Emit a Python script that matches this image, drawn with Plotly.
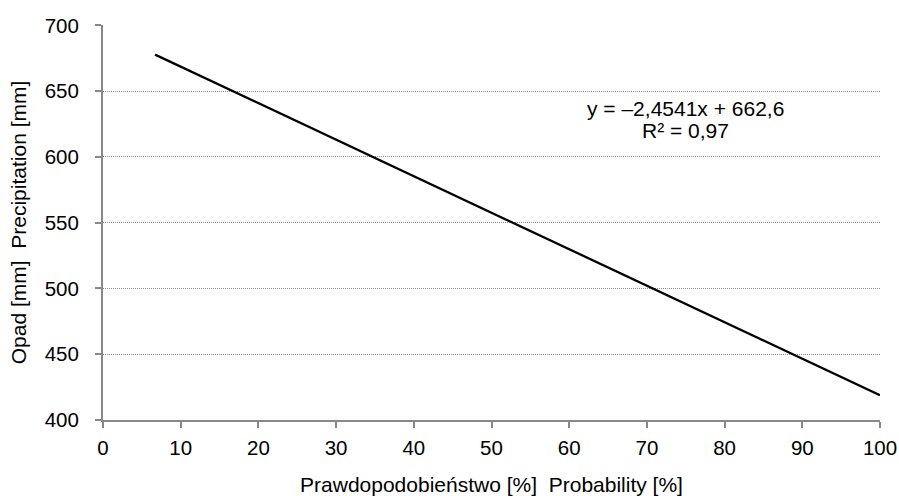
import plotly.graph_objects as go

# Data
line_x = [6.7, 100]
line_y = [677.8, 418.8]
x_ticks = [0, 10, 20, 30, 40, 50, 60, 70, 80, 90, 100]
y_ticks = [400, 450, 500, 550, 600, 650, 700]
eq_line1 = "y = –2,4541x + 662,6"
eq_line2 = "R² = 0,97"
x_title = "Prawdopodobieństwo [%]&nbsp; Probability [%]"
y_title = "Opad [mm]&nbsp; Precipitation [mm]"

FONT = "Liberation Sans, Arial, sans-serif"
fig = go.Figure()
fig.add_trace(go.Scatter(x=line_x, y=line_y, mode="lines",
                         line=dict(color="black", width=2.3), showlegend=False))

fig.add_annotation(x=75, y=637, xref="x", yref="y", text=eq_line1,
                   showarrow=False, font=dict(family=FONT, size=21, color="black"))
fig.add_annotation(x=75, y=620, xref="x", yref="y", text=eq_line2,
                   showarrow=False, font=dict(family=FONT, size=21, color="black"))

tick_font = dict(family=FONT, size=20.5, color="black")
title_font = dict(family=FONT, size=21, color="black")
fig.update_layout(
    width=899, height=496,
    margin=dict(l=103, r=19, t=25, b=76),
    plot_bgcolor="white", paper_bgcolor="white",
    font=tick_font,
    xaxis=dict(range=[0, 100], tickvals=x_ticks, showgrid=False, automargin=False,
               showline=True, linecolor="#888888", linewidth=2,
               ticks="outside", ticklen=6, tickcolor="#888888", tickwidth=2,
               ticklabelstandoff=2,
               zeroline=False, tickfont=tick_font,
               title=dict(text=x_title, font=title_font, standoff=22)),
    yaxis=dict(range=[400, 700.3], tickvals=y_ticks, showgrid=True, automargin=False,
               gridcolor="#8c8c8c", griddash="1px,1px", gridwidth=1,
               showline=True, linecolor="#888888", linewidth=2,
               ticks="outside", ticklen=6, tickcolor="#888888", tickwidth=2,
               ticklabelstandoff=12,
               zeroline=False, tickfont=tick_font,
               title=dict(text=y_title, font=title_font, standoff=12)),
)

fig.write_html("out.html", config={"displayModeBar": False},
               post_script="document.body.style.margin='0';document.body.style.overflow='hidden';")
